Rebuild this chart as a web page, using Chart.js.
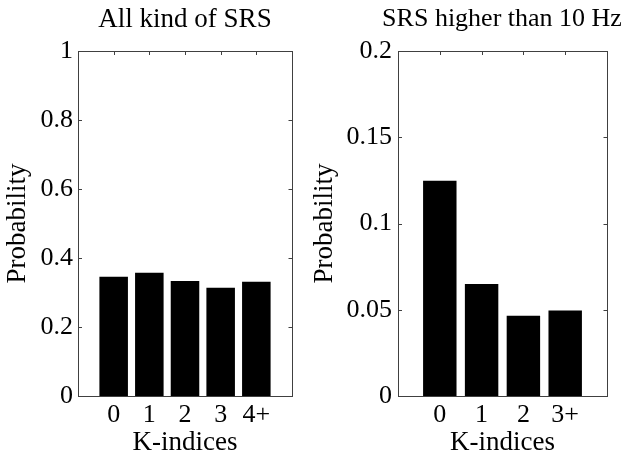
<!DOCTYPE html>
<html lang="en">
  <head>
    <meta charset="UTF-8" />
    <script src="https://cdn.jsdelivr.net/npm/chart.js"></script>
    <title>K-indices</title>
    <style>
      body { margin: 0; background: #fff; overflow: hidden; }
      canvas { position: absolute; top: 0; }
    </style>
  </head>
  <body>
    <!-- canvases overlap; each is centred on its own axes so the title sits over the plot -->
    <canvas id="left" width="370" height="457" style="left: 0px"></canvas>
    <canvas id="right" width="390" height="457" style="left: 307px"></canvas>
  </body>
</html>
<script>
  // left panel
  const leftTitle = "All kind of SRS";
  const leftCats = ["0", "1", "2", "3", "4+"];
  const leftValues = [0.346, 0.357, 0.333, 0.314, 0.331];
  const leftTicks = [0, 0.2, 0.4, 0.6, 0.8, 1];

  // right panel
  const rightTitle = "SRS higher than 10 Hz";
  const rightCats = ["0", "1", "2", "3+"];
  const rightValues = [0.1248, 0.065, 0.0465, 0.0496];
  const rightTicks = [0, 0.05, 0.1, 0.15, 0.2];

  const FONT = "'Liberation Serif', 'Times New Roman', serif";
  const AXIS_COLOR = "#404040";

  // matlab style box with inward ticks
  const boxPlugin = {
    id: "box",
    beforeDatasetsDraw(chart) {
      const { ctx, chartArea: a, scales } = chart;
      const right = Math.round(a.right) + 0.5;
      ctx.save();
      ctx.strokeStyle = AXIS_COLOR;
      ctx.lineWidth = 1;
      ctx.beginPath();
      scales.y.ticks.forEach((t) => {
        const y = Math.round(scales.y.getPixelForValue(t.value)) + 0.5;
        ctx.moveTo(a.left, y); ctx.lineTo(a.left + 4, y);
        ctx.moveTo(right, y); ctx.lineTo(right - 4, y);
      });
      const n = scales.x.ticks.length;
      scales.x.ticks.forEach((t, i) => {
        if (i === 0 || i === n - 1) return;
        const x = Math.round(scales.x.getPixelForValue(i)) + 0.5;
        ctx.moveTo(x, a.top); ctx.lineTo(x, a.top + 4);
        ctx.moveTo(x, a.bottom); ctx.lineTo(x, a.bottom - 4);
      });
      ctx.stroke();
      ctx.restore();
    },
    afterDraw(chart) {
      const { ctx, chartArea: a } = chart;
      ctx.save();
      ctx.strokeStyle = AXIS_COLOR;
      ctx.lineWidth = 1;
      ctx.strokeRect(Math.round(a.left) + 0.5, Math.round(a.top) + 0.5,
        Math.round(a.right - a.left), Math.round(a.bottom - a.top));
      ctx.restore();
    },
  };

  function makeChart(id, title, titleSize, cats, values, ticks, yWidth, padRight, tickPad) {
    const labels = ["", ...cats, ""];
    const data = [null, ...values, null];
    const lh = titleSize * 1.2;
    new Chart(document.getElementById(id), {
      type: "bar",
      data: {
        labels: labels,
        datasets: [
          {
            data: data,
            backgroundColor: "#000",
            borderColor: "#000",
            borderWidth: 0,
            barPercentage: 0.8,
            categoryPercentage: 1,
          },
        ],
      },
      options: {
        responsive: false,
        animation: false,
        layout: { padding: 0 },
        plugins: {
          legend: { display: false },
          tooltip: { enabled: false },
          title: {
            display: true,
            text: title,
            color: "#000",
            font: { family: FONT, size: titleSize, weight: "normal" },
            padding: { top: 19.5 - lh / 2, bottom: 51 - lh - (19.5 - lh / 2) },
          },
        },
        scales: {
          x: {
            offset: false,
            grid: { display: false, drawTicks: false },
            border: { display: false },
            ticks: {
              color: "#000",
              font: { family: FONT, size: 26 },
              padding: 4,
              autoSkip: false,
              maxRotation: 0,
            },
            title: {
              display: true,
              text: "K-indices",
              color: "#000",
              font: { family: FONT, size: 27 },
              padding: { top: 0, bottom: -2 },
            },
            afterFit: (s) => { s.height = 61; },
          },
          y: {
            min: ticks[0],
            max: ticks[ticks.length - 1],
            grid: { display: false, drawTicks: false },
            border: { display: false },
            afterBuildTicks: (s) => { s.ticks = ticks.map((v) => ({ value: v })); },
            ticks: {
              color: "#000",
              font: { family: FONT, size: 26 },
              padding: tickPad,
              callback: (v) => String(v),
            },
            title: {
              display: true,
              text: "Probability",
              color: "#000",
              font: { family: FONT, size: 27 },
              padding: { top: 1.5, bottom: 0 },
            },
            afterFit: (s) => { s.width = yWidth; },
          },
          // empty spacer on the right so the title stays centred over the plot
          yRight: {
            position: "right",
            display: true,
            grid: { display: false, drawTicks: false },
            border: { display: false },
            ticks: { display: false },
            afterFit: (s) => { s.width = padRight; },
          },
        },
      },
      plugins: [boxPlugin],
    });
  }

  makeChart("left", leftTitle, 27, leftCats, leftValues, leftTicks, 78, 78, 5);
  makeChart("right", rightTitle, 26, rightCats, rightValues, rightTicks, 91, 90, 6);
</script>
